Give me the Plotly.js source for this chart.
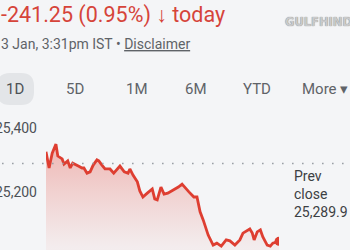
<!DOCTYPE html>
<html>
<head>
<meta charset="utf-8">
<script src="https://cdn.plot.ly/plotly-3.0.1.min.js"></script>
<style>html,body{margin:0;padding:0;background:#f4f5f7;}#chart{width:350px;height:250px;}</style>
</head>
<body>
<div id="chart"></div>
<script>
// Minutes since market open (09:15) and index level
const minutes = [0,5,10,16,19,26,29,35,39,43,52,58,61,66,71,76,82,85,90,95,103,109,119,126,132,135,140,147,151,156,163,171,175,179,185,190,196,208,213,219,224,230,238,243,248,253,261,269,275,282,290,296,304,312,317,324,328,332,335,340,345,349,356,361,365,375];
const values = [25326,25276,25322,25350,25313,25304,25288,25298,25276,25291,25282,25276,25276,25260,25264,25285,25301,25298,25285,25273,25273,25260,25282,25264,25260,25273,25254,25233,25205,25186,25198,25211,25180,25177,25217,25195,25198,25211,25217,25226,25214,25202,25186,25186,25140,25115,25068,25037,25043,25034,25053,25050,25037,25053,25074,25084,25087,25074,25053,25078,25084,25062,25037,25034,25043,25048.65];
const prevClose = 25289.9;
const tickVals = [25200, 25400];
const tickLabels = ["25,200", "25,400"];
const ranges = ["1D", "5D", "1M", "6M", "YTD", "More \u25BE"];
const changeText = "-241.25 (0.95%) <b>\u2193</b> today";
const dateText = "3 Jan, 3:31pm IST \u2022 <u>Disclaimer</u>";

const W = 350, H = 250, L = 46, R = 71;
const PW = W - L - R;
const px = p => (p - L) / PW;
const py = p => 1 - p / H;

const red = '#de3e31';
const gray = '#5f6368';
const font = 'Roboto, Arial, sans-serif';

const lastX = minutes[minutes.length - 1];
const lastY = values[values.length - 1];

const traces = [
  {
    x: minutes, y: values, type: 'scatter', mode: 'lines',
    line: {color: red, width: 2.8, shape: 'linear'},
    fill: 'tozeroy',
    fillgradient: {type: 'vertical', start: 25030, stop: 25340,
      colorscale: [[0, 'rgba(232,120,110,0.07)'], [1, 'rgba(232,100,90,0.42)']]},
    hoverinfo: 'skip'
  },
  {
    x: [lastX], y: [lastY], type: 'scatter', mode: 'markers',
    marker: {color: red, size: 9}, hoverinfo: 'skip'
  }
];

const P = {xref: 'paper', yref: 'paper', showarrow: false};
const rangeX = [15, 75, 137, 196, 257, 300];
const annotations = [
  Object.assign({text: changeText, x: px(-1), y: py(15), xanchor: 'left', yanchor: 'middle',
   font: {family: font, size: 21.5, color: '#d6443a'}}, P),
  Object.assign({text: dateText, x: px(-1), y: py(44), xanchor: 'left', yanchor: 'middle',
   font: {family: font, size: 14, color: gray}}, P),
  Object.assign({text: '<b>GULFHINDI</b>', x: px(283), y: py(22), xanchor: 'left', yanchor: 'middle',
   font: {family: 'DejaVu Sans, sans-serif', size: 11.5, color: '#c9cacc', shadow: '0 0 1px #6a6a6a'}}, P),
  Object.assign({text: 'Prev<br>close<br>' + prevClose.toLocaleString('en-US', {minimumFractionDigits: 1}),
   x: px(292), y: py(166), xanchor: 'left', yanchor: 'top', align: 'left',
   font: {family: font, size: 14, color: '#3c4043'}}, P)
];
ranges.forEach((r, i) => {
  const last = i === ranges.length - 1;
  annotations.push(Object.assign({text: r, x: px(rangeX[i]), y: py(89), xanchor: last ? 'left' : 'center', yanchor: 'middle',
    font: {family: font, size: 15, color: i === 0 ? '#4d5156' : gray}}, P));
});

// Rounded pill behind "1D"
const x0 = -3, x1 = 34, y0 = 73, y1 = 105, rr = 13;
const pill = `M ${px(x0 + rr)} ${py(y0)} L ${px(x1 - rr)} ${py(y0)} Q ${px(x1)} ${py(y0)} ${px(x1)} ${py(y0 + rr)} ` +
  `L ${px(x1)} ${py(y1 - rr)} Q ${px(x1)} ${py(y1)} ${px(x1 - rr)} ${py(y1)} L ${px(x0 + rr)} ${py(y1)} ` +
  `Q ${px(x0)} ${py(y1)} ${px(x0)} ${py(y1 - rr)} L ${px(x0)} ${py(y0 + rr)} Q ${px(x0)} ${py(y0)} ${px(x0 + rr)} ${py(y0)} Z`;

const layout = {
  width: W, height: H,
  margin: {l: L, r: R, t: 0, b: 0, pad: 0},
  paper_bgcolor: '#f4f5f7', plot_bgcolor: '#f4f5f7',
  showlegend: false,
  xaxis: {range: [0, 375], visible: false, fixedrange: true},
  yaxis: {range: [prevClose - 86.5 * 3.1, prevClose + 163.5 * 3.1],
    tickvals: tickVals, ticktext: tickLabels, showgrid: false, zeroline: false, showline: false,
    ticks: '', ticklabelstandoff: 8, tickfont: {family: font, size: 14, color: '#4d5156'}, fixedrange: true},
  shapes: [
    {type: 'path', path: pill, xref: 'paper', yref: 'paper', fillcolor: '#e3e5e8', line: {width: 0}, layer: 'below'},
    {type: 'line', xref: 'paper', yref: 'y', x0: px(2), x1: px(352), y0: prevClose, y1: prevClose,
     line: {color: '#9aa0a6', width: 1.6, dash: '1.6px,8.4px'}, layer: 'above'}
  ],
  annotations: annotations
};

Plotly.newPlot('chart', traces, layout, {displayModeBar: false, staticPlot: true});
</script>
</body>
</html>
